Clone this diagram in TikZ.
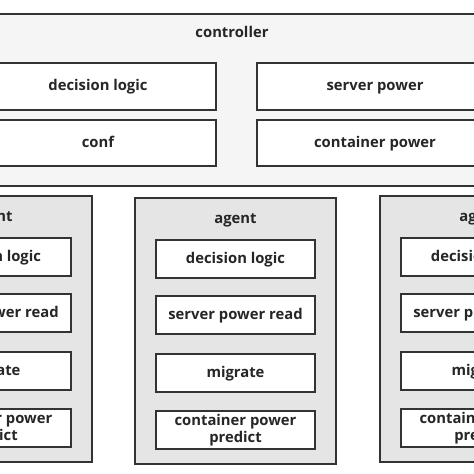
\documentclass[tikz,border=0pt]{standalone}
\usepackage{fontspec}
\setmainfont{Open Sans}
\begin{document}
\begin{tikzpicture}[x=1pt,y=-1pt,
  txt/.style={font=\bfseries\fontsize{14.8}{16.8}\selectfont, text=black!85},
  one/.style={text height=8pt, text depth=0pt},
  ctrlbox/.style={draw=black!80, line width=1.5pt, fill=black!4, minimum width=540pt, minimum height=172pt, inner sep=0pt},
  agentbox/.style={draw=black!80, line width=1.5pt, fill=black!10, minimum width=201pt, minimum height=266pt, inner sep=0pt},
  cbox/.style={txt, one, draw=black!80, line width=1.5pt, fill=white, minimum width=236pt, minimum height=47pt, inner sep=0pt},
  aboxbase/.style={txt, draw=black!80, line width=1.5pt, fill=white, minimum width=159pt, minimum height=38pt, inner sep=0pt, align=center},
  abox/.style={aboxbase, one},
  lbl/.style={txt, one, inner sep=0pt}
]
\useasboundingbox (0,0) rectangle (474,474);
\clip (0,0) rectangle (474,474);
\fill[white] (0,0) rectangle (474,474);
% controller
\node[ctrlbox] (ctrl) at (230,100) {};
\node[lbl] (ctrllbl) at (232,33.3) {controller};
\node[cbox] (cdl) at (98,86.5) {decision logic};
\node[cbox] (csp) at (375,86.5) {server power};
\node[cbox, minimum height=46pt] (cconf) at (98,143) {conf};
\node[cbox, minimum height=46pt] (ccp) at (375,143) {container power};
% agents
\foreach \n/\cx/\dy in {a/-8.5/-2, b/235.5/0, c/480.5/-2}{
  \node[agentbox] (\n box) at (\cx,331+\dy) {};
  \node[lbl] (\n lbl) at (\cx,219+\dy) {agent};
  \node[abox] (\n dl) at (\cx,259+\dy) {decision logic};
  \node[abox] (\n spr) at (\cx,315+\dy) {server power read};
  \node[abox] (\n mig) at (\cx,373+\dy) {migrate};
  \node[aboxbase] (\n cpp) at (\cx,430+\dy) {\raisebox{0pt}[\height][\depth]{}container power\\predict};
}
\end{tikzpicture}
\end{document}
